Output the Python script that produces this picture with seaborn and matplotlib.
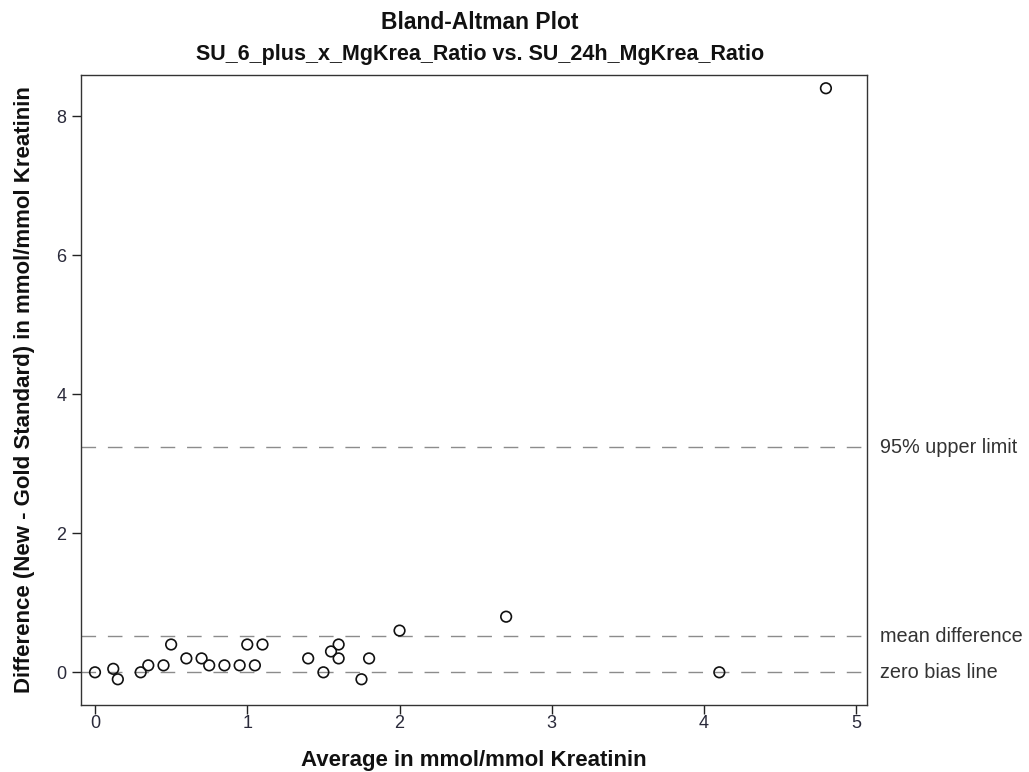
import matplotlib
matplotlib.use("Agg")
import matplotlib.pyplot as plt
import seaborn as sns
import pandas as pd

average = [0.0, 0.12, 0.15, 0.30, 0.35, 0.45, 0.50, 0.60, 0.70, 0.75, 0.85, 0.95,
           1.00, 1.05, 1.10, 1.40, 1.50, 1.55, 1.60, 1.60, 1.75, 1.80, 2.00, 2.70,
           4.10, 4.80]
difference = [0.0, 0.05, -0.1, 0.0, 0.1, 0.1, 0.4, 0.2, 0.2, 0.1, 0.1, 0.1,
              0.4, 0.1, 0.4, 0.2, 0.0, 0.3, 0.4, 0.2, -0.1, 0.2, 0.6, 0.8,
              0.0, 8.4]
ref_values = [3.24, 0.52, 0.0]
ref_labels = ["95% upper limit", "mean difference", "zero bias line"]
x_ticks = [0, 1, 2, 3, 4, 5]
y_ticks = [0, 2, 4, 6, 8]

sns.set_theme(style="white")
plt.rcParams['font.family'] = ['Liberation Sans', 'DejaVu Sans']

df = pd.DataFrame({"avg": average, "diff": difference})

fig = plt.figure(figsize=(10.29, 7.72), dpi=100)
ax = fig.add_axes([0.0787, 0.0868, 0.7639, 0.816])

for v in ref_values:
    ax.axhline(v, color="#8c8c8c", lw=1.0, linestyle=(0, (10.5, 8.5)), zorder=1)

sns.scatterplot(data=df, x="avg", y="diff", ax=ax, marker="o", s=58,
                facecolor="none", edgecolor="#111111", linewidth=1.2, zorder=3)

ax.set_xlim(-0.092, 5.07)
ax.set_ylim(-0.47, 8.59)
ax.set_xticks(x_ticks)
ax.set_yticks(y_ticks)
ax.tick_params(axis="both", direction="out", length=6.5, width=1, color="#222222",
               labelsize=13, labelcolor="#2a2a3a", bottom=True, left=True)
ax.tick_params(axis="x", pad=1)
ax.tick_params(axis="y", pad=4)
for s in ax.spines.values():
    s.set_color("#333333")
    s.set_linewidth(1.0)

ax.set_xlabel("Average in mmol/mmol Kreatinin", fontsize=16, fontweight="bold",
              labelpad=13, color="#111111")
ax.set_ylabel("Difference (New - Gold Standard) in mmol/mmol Kreatinin",
              fontsize=16, fontweight="bold", labelpad=15, color="#111111")

for v, lab in zip(ref_values, ref_labels):
    ax.annotate(lab, xy=(1.0, v), xycoords=("axes fraction", "data"),
                xytext=(9, 0), textcoords="offset points", va="center",
                ha="left", fontsize=14.3, color="#333333", annotation_clip=False)

fig.text(0.4665, 0.971, "Bland-Altman Plot", ha="center", va="center",
         fontsize=16.5, fontweight="bold", color="#111111")
fig.text(0.4665, 0.929, "SU_6_plus_x_MgKrea_Ratio vs. SU_24h_MgKrea_Ratio",
         ha="center", va="center", fontsize=15.5, fontweight="bold", color="#111111")

fig.savefig("out.png", dpi=100)
